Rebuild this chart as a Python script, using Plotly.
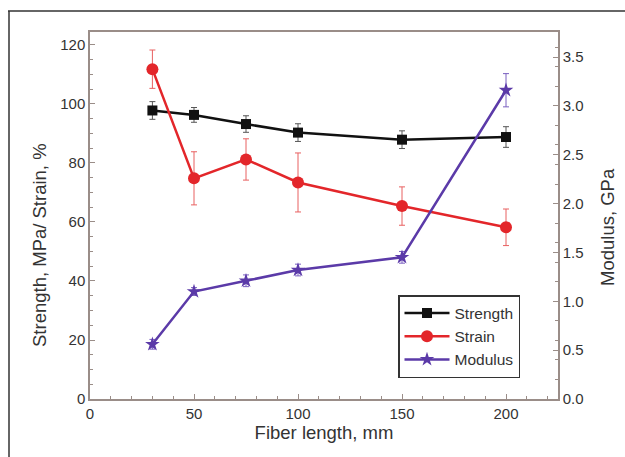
import plotly.graph_objects as go

fiber_length = [30, 50, 75, 100, 150, 200]
strength = [97.8, 96.3, 93.2, 90.3, 87.9, 88.8]
strength_err = [3.0, 2.5, 2.8, 3.0, 3.0, 3.5]
strain = [111.8, 74.8, 81.2, 73.4, 65.4, 58.2]
strain_err = [6.5, 9.0, 7.0, 10.0, 6.5, 6.2]
modulus = [0.56, 1.10, 1.21, 1.32, 1.45, 3.16]
modulus_err = [0.05, 0.04, 0.06, 0.06, 0.06, 0.17]
left_ticks = [0, 20, 40, 60, 80, 100, 120]
right_ticks = [0.0, 0.5, 1.0, 1.5, 2.0, 2.5, 3.0, 3.5]
x_ticks = [0, 50, 100, 150, 200]

FONT = "Liberation Sans, Arial, sans-serif"
BLACK = "#111111"
RED = "#e3262a"
PURPLE = "#5b3aa8"
FRAME = "#9a8d88"
TXT = "#333333"

# layout geometry in px
W, H = 625, 457
ML, MR, MT, MB = 90, 67, 32, 58
PW = W - ML - MR
PH = H - MT - MB
def px(xp):
    return (xp - ML) / PW
def py(yp):
    return (H - MB - yp) / PH

fig = go.Figure()
fig.add_trace(go.Scatter(
    x=fiber_length, y=strength, name="Strength", mode="lines+markers",
    line=dict(color=BLACK, width=2.5),
    marker=dict(symbol="square", size=10, color=BLACK),
    error_y=dict(type="data", array=strength_err, color="#555555", thickness=1, width=3),
))
fig.add_trace(go.Scatter(
    x=fiber_length, y=strain, name="Strain", mode="lines+markers",
    line=dict(color=RED, width=2.5),
    marker=dict(symbol="circle", size=12, color=RED),
    error_y=dict(type="data", array=strain_err, color="#e86060", thickness=1, width=3),
))
fig.add_trace(go.Scatter(
    x=fiber_length, y=modulus, name="Modulus", mode="lines+markers", yaxis="y2",
    line=dict(color=PURPLE, width=2.5),
    marker=dict(symbol="star", size=11, color=PURPLE),
    error_y=dict(type="data", array=modulus_err, color="#7a60c0", thickness=1, width=3),
))

axis_common = dict(
    showgrid=False, zeroline=False, showline=True, linecolor=FRAME, linewidth=1.5,
    ticks="inside", ticklen=5, tickcolor=FRAME,
    tickfont=dict(family=FONT, size=15, color=TXT),
    minor=dict(ticks="inside", ticklen=3, tickcolor=FRAME),
)
title_font = dict(family=FONT, size=18.5, color=TXT)

fig.update_layout(
    width=W, height=H,
    margin=dict(l=ML, r=MR, t=MT, b=MB),
    paper_bgcolor="white", plot_bgcolor="white",
    font=dict(family=FONT, color=TXT),
    xaxis=dict(**axis_common, range=[0, 225], tickvals=x_ticks, mirror=True,
               title=dict(text="Fiber length, mm", font=title_font, standoff=4)),
    yaxis=dict(**axis_common, range=[0, 124.4], tickvals=left_ticks, mirror=True),
    yaxis2=dict(**axis_common, range=[0, 3.756], overlaying="y", side="right",
                tickvals=right_ticks, tickformat=".1f"),
    legend=dict(x=px(398), y=py(295), xanchor="left", yanchor="top",
                bordercolor=TXT, borderwidth=1.5, bgcolor="white",
                font=dict(family=FONT, size=15.5, color=TXT),
                tracegroupgap=0, itemwidth=45),
    showlegend=True,
    annotations=[
        dict(text="Strength, MPa/ Strain, %", xref="paper", yref="paper", x=px(39), y=py(245),
             textangle=-90, showarrow=False, font=title_font, xanchor="center", yanchor="middle"),
        dict(text="Modulus, GPa", xref="paper", yref="paper", x=px(607), y=py(227),
             textangle=-90, showarrow=False, font=title_font, xanchor="center", yanchor="middle"),
    ],
)

fig.add_shape(type="line", xref="paper", yref="paper", x0=px(8), x1=px(625), y0=py(11), y1=py(11),
              line=dict(color=TXT, width=1.5))
fig.add_shape(type="line", xref="paper", yref="paper", x0=px(9), x1=px(9), y0=py(11), y1=py(457),
              line=dict(color=TXT, width=1.5))

fig.write_html("out.html")
